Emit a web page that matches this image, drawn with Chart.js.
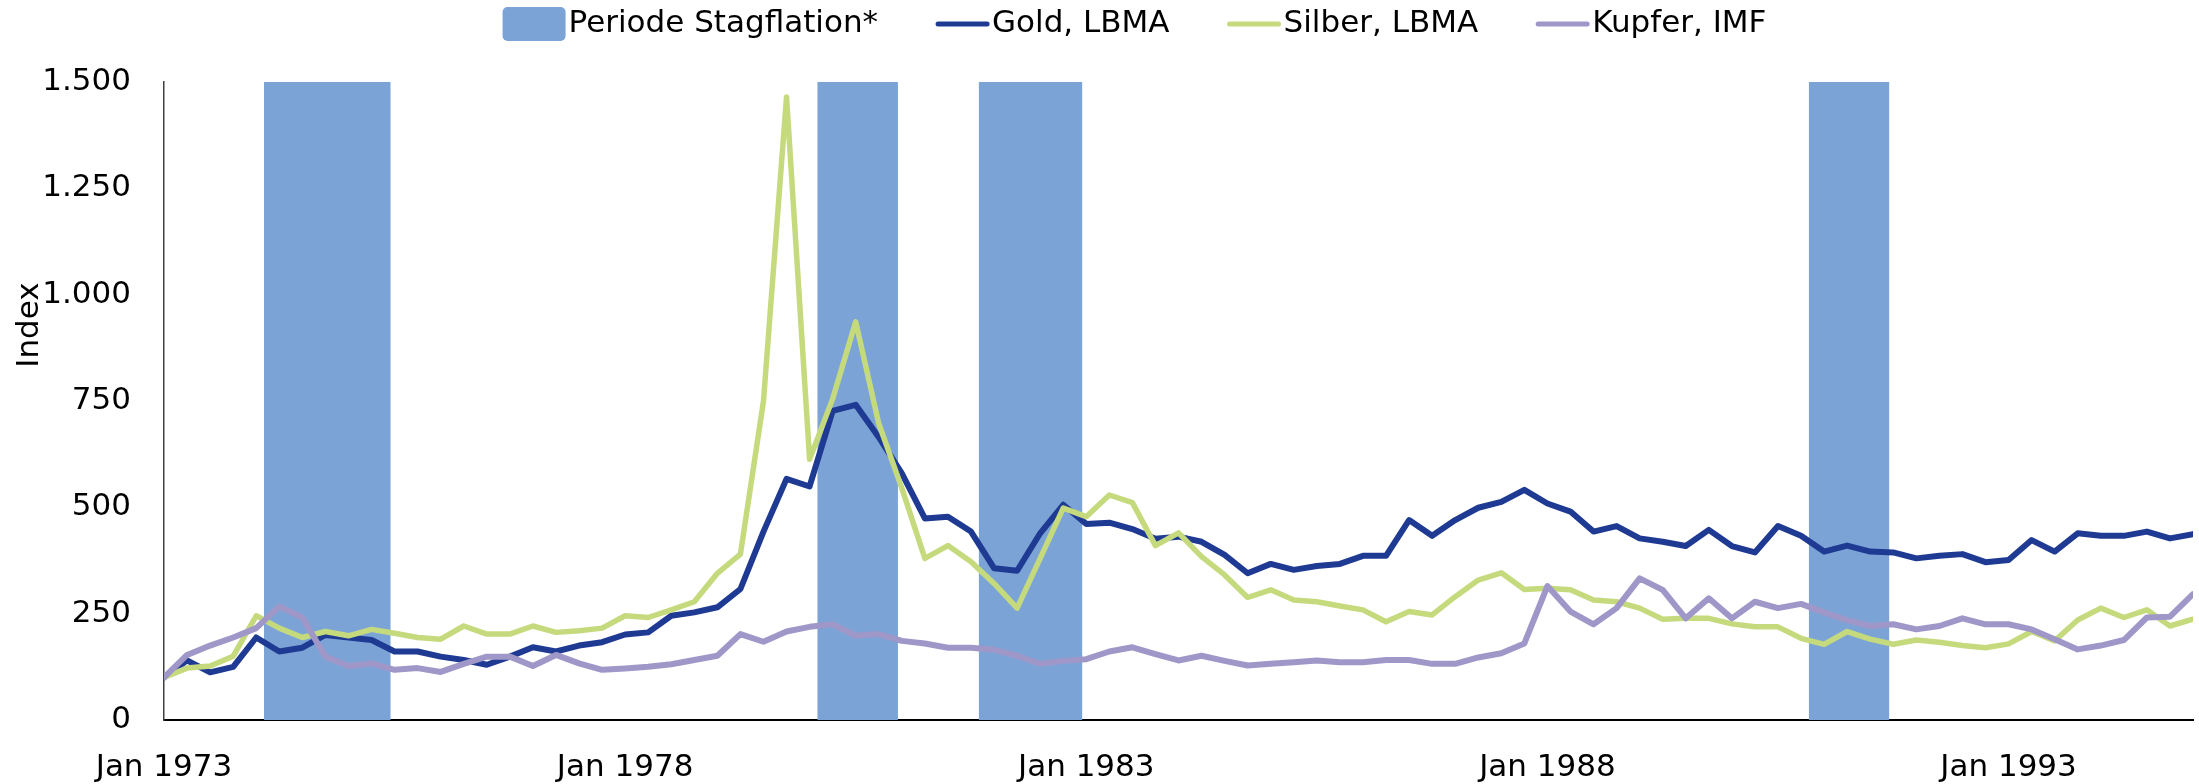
<!DOCTYPE html>
<html lang="de">
<head>
<meta charset="utf-8">
<title>Gold, Silber, Kupfer und Stagflation</title>
<script src="https://cdn.jsdelivr.net/npm/chart.js@4.4.1/dist/chart.umd.min.js"></script>
<style>
  html, body { margin: 0; padding: 0; background: #fff; }
  #chart { display: block; }
</style>
</head>
<body>
<canvas id="chart" width="2199" height="784"></canvas>
<script>
// Quartalswerte ab Jan 1973, Index (Start = 100)
const startYear = 1973;

const gold = [100, 140, 112, 125, 194, 161, 170, 200, 194, 188,
    161, 161, 149, 141, 130, 149, 171, 161, 175, 183,
    201, 206, 245, 253, 265, 308, 443, 567, 549, 727,
    741, 665, 580, 474, 478, 443, 357, 351, 439, 506,
    461, 464, 449, 426, 431, 419, 388, 345, 367, 353,
    362, 367, 386, 386, 470, 433, 470, 499, 513, 541,
    509, 490, 443, 456, 427, 419, 409, 447, 409, 394,
    456, 433, 396, 410, 396, 394, 380, 386, 390, 371,
    376, 423, 396, 439, 433, 433, 443, 427, 437];

const silber = [100, 122, 127, 150, 245, 216, 194, 208, 198, 213,
    204, 194, 190, 221, 202, 202, 221, 206, 210, 216,
    245, 241, 259, 278, 345, 390, 750, 1465, 613, 755,
    936, 697, 545, 380, 410, 372, 321, 263, 380, 498,
    478, 529, 511, 410, 440, 384, 341, 288, 306, 282,
    278, 268, 259, 231, 255, 247, 290, 329, 346, 307,
    310, 306, 282, 278, 263, 237, 239, 239, 226, 219,
    219, 192, 178, 208, 190, 178, 188, 183, 175, 170,
    179, 208, 186, 235, 263, 241, 259, 221, 237];

const kupfer = [100, 153, 175, 194, 216, 267, 241, 149, 127, 133,
    118, 122, 113, 132, 149, 149, 127, 153, 133, 118,
    121, 125, 131, 141, 151, 202, 184, 208, 219, 225,
    198, 202, 186, 180, 170, 170, 165, 151, 132, 139,
    143, 161, 171, 155, 140, 151, 139, 128, 132, 136,
    140, 136, 136, 141, 141, 132, 132, 147, 157, 180,
    315, 255, 225, 263, 333, 306, 239, 286, 239, 278,
    263, 273, 253, 235, 221, 225, 213, 221, 239, 225,
    225, 213, 190, 166, 175, 188, 241, 243, 296];

// Stagflationsphasen (erster und letzter Monat)
const stagStart = ['1974-02', '1980-02', '1981-11', '1990-11'];
const stagEnd = ['1975-06', '1980-12', '1982-12', '1991-09'];

const xTickLabels = ['Jan 1973', 'Jan 1978', 'Jan 1983', 'Jan 1988', 'Jan 1993'];
const yMax = 1500;

// Monate seit Jan 1973
function monthIndex(ym) {
    const [y, m] = ym.split('-').map(Number);
    return (y - startYear) * 12 + (m - 1);
}

const toPoints = arr => arr.map((v, i) => ({ x: i * 3, y: v }));

const stagPoints = [];
stagStart.forEach((s, k) => {
    const end = monthIndex(stagEnd[k]) + 0.5;
    stagPoints.push({ x: monthIndex(s), y: yMax }, { x: end, y: yMax }, { x: end, y: null });
});

const FONT = '"DejaVu Sans", sans-serif';
Chart.defaults.font.family = FONT;
Chart.defaults.font.size = 31;
Chart.defaults.color = '#000';

// Legende oben (Kasten bzw. Linie direkt vor dem Text)
const topLegend = {
    id: 'topLegend',
    afterDraw(chart) {
        const ctx = chart.ctx;
        ctx.save();
        ctx.font = '31px ' + FONT;
        ctx.textBaseline = 'middle';
        ctx.fillStyle = '#000';
        const items = chart.data.datasets.map(ds => ({
            ds, w: ds.fill ? 63 : 53, tw: ctx.measureText(ds.label).width
        }));
        const gap = 3, spacing = 58;
        const total = items.reduce((s, it) => s + it.w + gap + it.tw, 0) + spacing * (items.length - 1);
        let x = (chart.width - total) / 2 + 35;
        const y = 24;
        items.forEach(it => {
            if (it.ds.fill) {
                ctx.fillStyle = it.ds.backgroundColor;
                ctx.beginPath();
                ctx.roundRect(x, y - 17, it.w, 34, 5);
                ctx.fill();
            } else {
                ctx.strokeStyle = it.ds.borderColor;
                ctx.lineWidth = 5;
                ctx.lineCap = 'round';
                ctx.beginPath();
                ctx.moveTo(x + 2, y);
                ctx.lineTo(x + it.w - 2, y);
                ctx.stroke();
            }
            ctx.fillStyle = '#000';
            ctx.fillText(it.ds.label, x + it.w + gap, y);
            x += it.w + gap + it.tw + spacing;
        });
        ctx.restore();
    }
};

// Achsentitel "Index"
const axisTitle = {
    id: 'axisTitle',
    afterDraw(chart) {
        const { ctx, chartArea } = chart;
        ctx.save();
        ctx.translate(30, chartArea.top + (chartArea.bottom - chartArea.top) * 0.381);
        ctx.rotate(-Math.PI / 2);
        ctx.font = '31px ' + FONT;
        ctx.fillStyle = '#000';
        ctx.textAlign = 'center';
        ctx.textBaseline = 'middle';
        ctx.fillText('Index', 0, 0);
        ctx.restore();
    }
};

const lineStyle = {
    pointRadius: 0,
    tension: 0,
    fill: false,
    borderCapStyle: 'round',
    borderJoinStyle: 'round'
};

new Chart(document.getElementById('chart'), {
    type: 'line',
    data: {
        datasets: [
            {
                label: 'Periode Stagflation*',
                data: stagPoints,
                backgroundColor: '#7BA3D6',
                borderWidth: 0,
                pointRadius: 0,
                fill: 'origin',
                spanGaps: false,
                order: 4
            },
            { label: 'Gold, LBMA', data: toPoints(gold), borderColor: '#1F3A93', borderWidth: 6, order: 3, ...lineStyle },
            { label: 'Silber, LBMA', data: toPoints(silber), borderColor: '#C5DA7D', borderWidth: 5.5, order: 2, ...lineStyle },
            { label: 'Kupfer, IMF', data: toPoints(kupfer), borderColor: '#A097C9', borderWidth: 6, order: 1, ...lineStyle }
        ]
    },
    options: {
        responsive: false,
        animation: false,
        events: [],
        layout: { padding: { top: 82, right: 6, bottom: 0, left: 0 } },
        plugins: {
            legend: { display: false },
            tooltip: { enabled: false }
        },
        scales: {
            x: {
                type: 'linear',
                min: 0,
                max: 264,
                grid: { display: false, drawTicks: false },
                border: { display: true, color: '#000', width: 2 },
                ticks: {
                    stepSize: 60,
                    includeBounds: false,
                    autoSkip: false,
                    maxRotation: 0,
                    padding: 29,
                    callback: (v, i) => xTickLabels[i]
                },
                afterFit: s => { s.height = 64; }
            },
            y: {
                min: 0,
                max: yMax,
                grid: { display: false, drawTicks: false },
                border: { display: true, color: '#404040', width: 1.5 },
                ticks: {
                    stepSize: 250,
                    padding: 33,
                    callback: v => String(v).replace(/\B(?=(\d{3})+(?!\d))/g, '.')
                },
                afterFit: s => { s.width = 164; }
            }
        }
    },
    plugins: [topLegend, axisTitle]
});
</script>
</body>
</html>
